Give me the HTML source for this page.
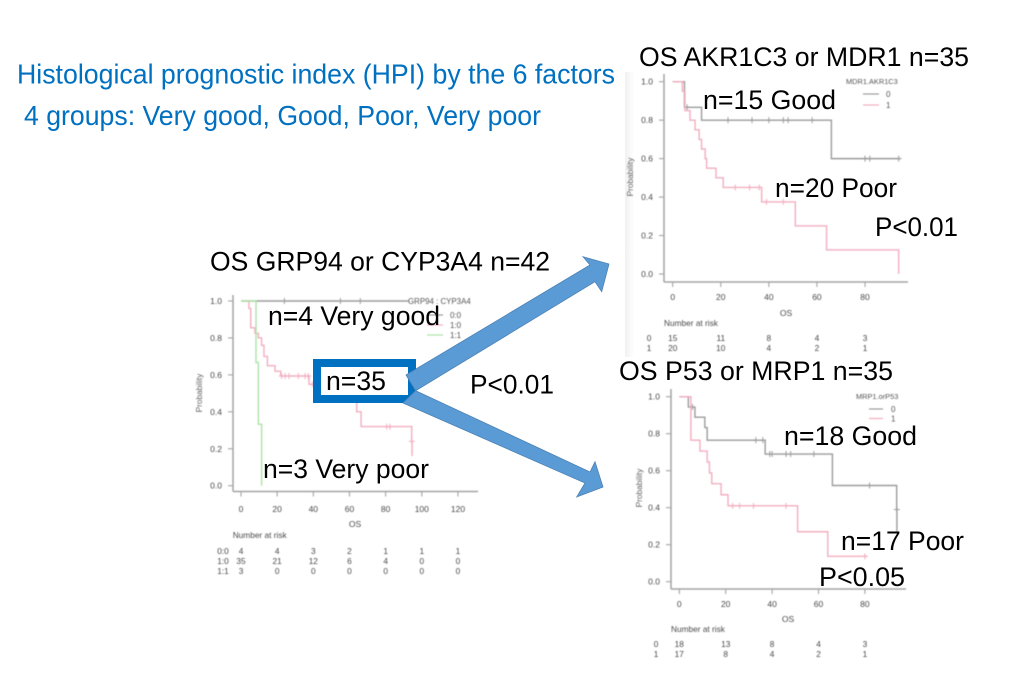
<!DOCTYPE html>
<html lang="en">
<head>
<meta charset="utf-8">
<title>Histological prognostic index</title>
<style>
html,body{margin:0;padding:0;background:#fff;}
svg{display:block;position:absolute;left:0;top:0;}
text{font-family:"Liberation Sans",Arial,sans-serif;}
.big{font-size:27px;fill:#000;}
.blue{font-size:28px;fill:#0070c0;}
</style>
</head>
<body>
<svg id="slide" xmlns="http://www.w3.org/2000/svg" width="1022" height="699" viewBox="0 0 1022 699">
  <defs>
    <filter id="soft" x="-5%" y="-5%" width="110%" height="110%"><feGaussianBlur stdDeviation="0.42"/></filter>
    <linearGradient id="band" x1="0" x2="1" y1="0" y2="0"><stop offset="0" stop-color="#f1f1f1"/><stop offset="1" stop-color="#ffffff"/></linearGradient>
  </defs>
  <rect width="1022" height="699" fill="#fff"/>
  <rect x="625" y="72" width="9" height="285" fill="url(#band)"/>
  <g id="charts"></g>

  <rect x="317" y="363" width="95" height="36" fill="#fff" stroke="#0070c0" stroke-width="8"/>
  <polygon points="415.7,390.7 590,472 595,461.7 603,487 576.7,497 585,483 403,403" fill="#5b9bd5" stroke="#4c82b4" stroke-width="0.8"/>
  <polygon points="406,375 590,265 583,256.7 609,264 601.7,291.7 595,281.7 415.7,390.7" fill="#5b9bd5" stroke="#4c82b4" stroke-width="0.8"/>

  <text class="blue" x="17" y="83.5" textLength="598" lengthAdjust="spacingAndGlyphs">Histological prognostic index (HPI) by the 6 factors</text>
  <text class="blue" x="24" y="125" textLength="517" lengthAdjust="spacingAndGlyphs">4 groups: Very good, Good, Poor, Very poor</text>

  <text class="big" x="639" y="66" textLength="330" lengthAdjust="spacingAndGlyphs">OS AKR1C3 or MDR1 n=35</text>
  <text class="big" x="703" y="109" textLength="133" lengthAdjust="spacingAndGlyphs">n=15 Good</text>
  <text class="big" x="775" y="197" textLength="122" lengthAdjust="spacingAndGlyphs">n=20 Poor</text>
  <text class="big" x="875" y="236" textLength="83" lengthAdjust="spacingAndGlyphs">P&lt;0.01</text>

  <text class="big" x="210" y="270.5" textLength="340" lengthAdjust="spacingAndGlyphs">OS GRP94 or CYP3A4 n=42</text>
  <text class="big" x="268" y="325" textLength="172" lengthAdjust="spacingAndGlyphs">n=4 Very good</text>
  <text class="big" x="326" y="390" textLength="60" lengthAdjust="spacingAndGlyphs">n=35</text>
  <text class="big" x="470" y="393.5" textLength="84" lengthAdjust="spacingAndGlyphs">P&lt;0.01</text>
  <text class="big" x="263" y="478" textLength="166" lengthAdjust="spacingAndGlyphs">n=3 Very poor</text>

  <text class="big" x="619" y="380" textLength="274" lengthAdjust="spacingAndGlyphs">OS P53 or MRP1 n=35</text>
  <text class="big" x="784" y="445" textLength="133" lengthAdjust="spacingAndGlyphs">n=18 Good</text>
  <text class="big" x="841" y="550" textLength="123" lengthAdjust="spacingAndGlyphs">n=17 Poor</text>
  <text class="big" x="819" y="586" textLength="86" lengthAdjust="spacingAndGlyphs">P&lt;0.05</text>
</svg>
<script>
// ---- Shared data
const probTicks = [0, 0.2, 0.4, 0.6, 0.8, 1];
const probTickLabels = ['0.0', '0.2', '0.4', '0.6', '0.8', '1.0'];

// ---- Left chart: GRP94 / CYP3A4
const leftTimeTicks = [0, 20, 40, 60, 80, 100, 120];
const leftGroups = ['0:0', '1:0', '1:1'];
const leftTimes00 = [0, 93];
const leftProbs00 = [1, 1];
const leftCensor00 = [24, 55, 66];
const leftTimes10 = [0, 4.4, 5.4, 7.7, 9.6, 11.4, 12.7, 14.6, 18.8, 22, 37.6, 51.5, 64, 66.4, 94.4, 94.6];
const leftProbs10 = [1, 0.96, 0.855, 0.825, 0.8, 0.76, 0.7, 0.65, 0.62, 0.594, 0.549, 0.49, 0.4, 0.32, 0.24, 0.16];
const leftCensor10 = [22.5, 24.4, 26.6, 31.7, 35.4, 37.2, 39.5, 46.5, 48.4, 50.2, 80.6, 82.4, 94.5];
const leftTimes11 = [0, 8.3, 9.6, 11.4];
const leftProbs11 = [1, 0.667, 0.333, 0];
const leftCensor11 = [];
const leftRisk00 = [4, 4, 3, 2, 1, 1, 1];
const leftRisk10 = [35, 21, 12, 6, 4, 0, 0];
const leftRisk11 = [3, 0, 0, 0, 0, 0, 0];

// ---- Top-right chart: MDR1 / AKR1C3
const topTimeTicks = [0, 20, 40, 60, 80];
const topGroups = ['0', '1'];
const topTimes0 = [0, 4.9, 12, 66, 94.6];
const topProbs0 = [1, 0.867, 0.8, 0.6, 0.6];
const topCensor0 = [6, 23, 33, 40, 46, 48, 58, 80, 82, 94];
const topTimes1 = [0, 4, 5.1, 7.2, 9.3, 11, 12, 13.5, 14.1, 18, 21, 37, 51, 64, 94];
const topProbs1 = [1, 0.95, 0.85, 0.8, 0.75, 0.7, 0.65, 0.6, 0.55, 0.5, 0.45, 0.375, 0.25, 0.125, 0];
const topCensor1 = [26, 32, 36, 39, 46];
const topRisk0 = [15, 11, 8, 4, 3];
const topRisk1 = [20, 10, 4, 2, 1];

// ---- Bottom-right chart: MRP1 / P53
const bottomTimeTicks = [0, 20, 40, 60, 80];
const bottomGroups = ['0', '1'];
const bottomTimes0 = [0, 3.9, 6.75, 11, 12, 37, 66, 93.7, 93.8];
const bottomProbs0 = [1, 0.944, 0.889, 0.833, 0.765, 0.69, 0.52, 0.39, 0.27];
const bottomCensor0 = [5.7, 33, 36, 39, 40, 46, 48, 58, 82, 93.75];
const bottomTimes1 = [0, 5, 8.9, 12, 13, 14, 18, 21, 51, 64, 81];
const bottomProbs1 = [1, 0.765, 0.706, 0.647, 0.588, 0.53, 0.47, 0.41, 0.27, 0.137, 0.137];
const bottomCensor1 = [23, 26, 32, 46, 80];
const bottomRisk0 = [18, 13, 8, 4, 3];
const bottomRisk1 = [17, 8, 4, 2, 1];

const NS = 'http://www.w3.org/2000/svg';
const AXIS = '#a4a4a4';
const LABEL = '#4a4a4a';
const GREY = '#9c9c9c';
const PINK = '#f2aebf';
const GREEN = '#aee3a7';

function make(tag, parent, props, txt) {
  const e = document.createElementNS(NS, tag);
  for (const k in props) e.setAttribute(k, props[k]);
  if (txt !== undefined) e.textContent = txt;
  parent.appendChild(e);
  return e;
}

function stepAt(times, probs, t) {
  let p = probs[0];
  for (let i = 0; i < times.length; i++) { if (times[i] <= t) p = probs[i]; }
  return p;
}

function drawChart(c) {
  const root = document.getElementById('charts');
  const g = make('g', root, { filter: 'url(#soft)' });
  
  
  const x = t => c.x0 + t * c.xScale;
  const y = p => c.y0 - p * c.yScale;

  const leftAxis = make('line', g, { x1: c.axisLeft, x2: c.axisLeft, y1: c.axisTop, y2: c.axisBottom, stroke: AXIS, 'stroke-width': 1.5 });
  
  
  const bottomAxis = make('line', g, { x1: c.axisLeft, x2: c.axisRight, y1: c.axisBottom, y2: c.axisBottom, stroke: AXIS, 'stroke-width': 1.5 });
  
  

  probTicks.forEach((p, i) => {
    const tick = make('line', g, { x1: c.axisLeft - 5, x2: c.axisLeft, y1: y(p), y2: y(p), stroke: AXIS, 'stroke-width': 1.1 });
    
    
    const label = make('text', g, { x: c.axisLeft - 11, y: y(p) + 3, 'text-anchor': 'end', 'font-size': 8.5, fill: LABEL }, probTickLabels[i]);
    
    
  });
  const yTitle = make('text', g, { transform: 'translate(' + c.yTitleX + ',' + c.yTitleY + ') rotate(-90)', 'text-anchor': 'middle', 'font-size': 8.3, fill: '#666' }, 'Probability');
  
  

  c.timeTicks.forEach(t => {
    const tick = make('line', g, { x1: x(t), x2: x(t), y1: c.axisBottom, y2: c.axisBottom + 5, stroke: AXIS, 'stroke-width': 1.1 });
    
    
    const label = make('text', g, { x: x(t), y: c.tickLabelY + 3, 'text-anchor': 'middle', 'font-size': 8.5, fill: LABEL }, String(t));
    
    
  });
  const xTitle = make('text', g, { x: c.osX, y: c.osY + 3, 'text-anchor': 'middle', 'font-size': 8.5, fill: LABEL }, 'OS');
  
  

  c.series.forEach(s => {
    let d = 'M' + x(s.times[0]) + ' ' + y(s.probs[0]);
    for (let i = 1; i < s.times.length; i++) {
      d += 'H' + x(s.times[i]) + 'V' + y(s.probs[i]);
    }
    const line = make('path', g, { d: d, fill: 'none', stroke: s.color, 'stroke-width': 1.4 });
    
    
    s.censor.forEach(t => {
      const p = stepAt(s.times, s.probs, t);
      const mark = make('path', g, { d: 'M' + x(t) + ' ' + (y(p) - 3) + 'v6M' + (x(t) - 3) + ' ' + y(p) + 'h6', fill: 'none', stroke: s.color, 'stroke-width': 1 });
      
      
    });
  });

  const legendTitle = make('text', g, { x: c.legendX, y: c.legendY + 3, 'font-size': c.legendFont, fill: '#555' }, c.legendTitle);
  
  
  c.series.forEach((s, i) => {
    const ly = c.legendEntryY + i * c.legendStep;
    const sample = make('line', g, { x1: c.sampleX1, x2: c.sampleX2, y1: ly, y2: ly, stroke: s.color, 'stroke-width': 1.2 });
    
    
    const entry = make('text', g, { x: c.sampleX2 + c.legendGap, y: ly + 3, 'font-size': 8, fill: '#555' }, s.name);
    
    
  });

  const risk = make('text', g, { x: c.riskX, y: c.riskTitleY + 3, 'font-size': 8.3, fill: LABEL }, 'Number at risk');
  
  
  c.series.forEach((s, i) => {
    const ry = c.riskRowY + i * c.riskStep;
    const rowLabel = make('text', g, { x: c.riskLabelX, y: ry + 3, 'text-anchor': 'middle', 'font-size': 8.3, fill: LABEL }, s.name);
    
    
    s.risk.forEach((v, j) => {
      const cell = make('text', g, { x: x(c.timeTicks[j]), y: ry + 3, 'text-anchor': 'middle', 'font-size': 8.3, fill: LABEL }, String(v));
      
      
    });
  });
}

drawChart({
  id: 'left', x0: 241, xScale: 1.808, y0: 485.7, yScale: 184.7,
  axisLeft: 233, axisRight: 478, axisTop: 295, axisBottom: 491.5,
  timeTicks: leftTimeTicks, tickLabelY: 509, osX: 355, osY: 524,
  yTitleX: 202, yTitleY: 393,
  legendTitle: 'GRP94 : CYP3A4', legendX: 408, legendY: 301, legendFont: 7.9,
  legendEntryY: 315, legendStep: 10, sampleX1: 427, sampleX2: 443, legendGap: 7,
  riskX: 232.7, riskTitleY: 535, riskRowY: 551, riskStep: 10, riskLabelX: 223,
  series: [
    { name: leftGroups[0], times: leftTimes00, probs: leftProbs00, censor: leftCensor00, risk: leftRisk00, color: GREY },
    { name: leftGroups[1], times: leftTimes10, probs: leftProbs10, censor: leftCensor10, risk: leftRisk10, color: PINK },
    { name: leftGroups[2], times: leftTimes11, probs: leftProbs11, censor: leftCensor11, risk: leftRisk11, color: GREEN }
  ]
});

drawChart({
  id: 'top', x0: 672.7, xScale: 2.404, y0: 274, yScale: 192.3,
  axisLeft: 664, axisRight: 908, axisTop: 74, axisBottom: 282,
  timeTicks: topTimeTicks, tickLabelY: 297, osX: 786, osY: 313,
  yTitleX: 633, yTitleY: 177,
  legendTitle: 'MDR1.AKR1C3', legendX: 846, legendY: 81, legendFont: 7.4,
  legendEntryY: 94, legendStep: 11, sampleX1: 863, sampleX2: 879, legendGap: 7,
  riskX: 664, riskTitleY: 323, riskRowY: 338, riskStep: 10, riskLabelX: 649,
  series: [
    { name: topGroups[0], times: topTimes0, probs: topProbs0, censor: topCensor0, risk: topRisk0, color: GREY },
    { name: topGroups[1], times: topTimes1, probs: topProbs1, censor: topCensor1, risk: topRisk1, color: PINK }
  ]
});

drawChart({
  id: 'bottom', x0: 679.3, xScale: 2.32, y0: 581.7, yScale: 185,
  axisLeft: 671, axisRight: 906, axisTop: 389, axisBottom: 589,
  timeTicks: bottomTimeTicks, tickLabelY: 604, osX: 788, osY: 619,
  yTitleX: 642, yTitleY: 488,
  legendTitle: 'MRP1.orP53', legendX: 856, legendY: 396, legendFont: 7.4,
  legendEntryY: 409, legendStep: 9.5, sampleX1: 869, sampleX2: 883, legendGap: 8,
  riskX: 671, riskTitleY: 629, riskRowY: 644, riskStep: 10, riskLabelX: 656,
  series: [
    { name: bottomGroups[0], times: bottomTimes0, probs: bottomProbs0, censor: bottomCensor0, risk: bottomRisk0, color: GREY },
    { name: bottomGroups[1], times: bottomTimes1, probs: bottomProbs1, censor: bottomCensor1, risk: bottomRisk1, color: PINK }
  ]
});
</script>
</body>
</html>
